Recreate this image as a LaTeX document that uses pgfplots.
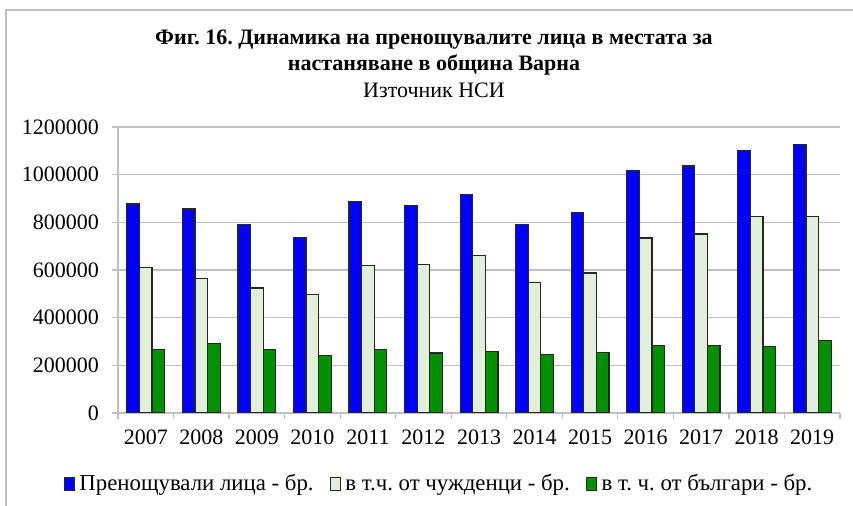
\documentclass[border=0pt]{standalone}
\usepackage{pgfplots}
\pgfplotsset{compat=1.18}
\usepackage{fontspec}
\setmainfont{Liberation Serif}
\frenchspacing
\definecolor{barblue}{HTML}{0000FF}
\definecolor{barpale}{HTML}{E2EFDA}
\definecolor{bargreen}{HTML}{009000}
\definecolor{gridgray}{HTML}{BFBFBF}
\definecolor{edgegray}{HTML}{262626}

\begin{document}
\begin{tikzpicture}
\useasboundingbox (0,0) rectangle (426.5pt,253pt);
\draw[gridgray,line width=0.6pt] (3pt,0) -- (3pt,248pt) -- (426.5pt,248pt);
\node[font=\fontsize{11}{13}\selectfont\bfseries] at (217pt,233pt) {Фиг. 16. Динамика на пренощувалите лица в местата за};
\node[font=\fontsize{11}{13}\selectfont\bfseries] at (217pt,220.5pt) {настаняване в община Варна};
\node[font=\fontsize{11}{13}\selectfont] at (217pt,208pt) {Източник НСИ};
\begin{axis}[
 at={(59pt,46.5pt)},anchor=south west,scale only axis,
 width=361pt,height=143pt,
 ybar=0pt,bar width=6.3pt,
 xmin=-0.5,xmax=12.5,ymin=0,ymax=1200000,
 xtick=data,
 xticklabels={2007,2008,2009,2010,2011,2012,2013,2014,2015,2016,2017,2018,2019},
 minor xtick={-0.5,0.5,...,12.5},
 major x tick style={draw=none},
 ytick={0,200000,...,1200000},
 scaled y ticks=false,
 /pgf/number format/fixed,/pgf/number format/1000 sep={},
 /pgf/number format/assume math mode=true,
 axis x line*=bottom,axis y line*=left,
 axis line style={gridgray,line width=0.6pt},
 tick style={gridgray,line width=0.6pt},
 tick align=outside,major tick length=3pt,minor tick length=3pt,
 ymajorgrids,grid style={gridgray,line width=0.6pt},
 tick label style={font=\fontsize{11}{13}\selectfont,text=black},
 yticklabel style={xshift=-3pt},
 xticklabel style={yshift=-2pt},
 legend style={at={(0.446,-0.248)},anchor=center,legend columns=3,draw=none,fill=none,
  font=\fontsize{11.4}{13}\selectfont,/tikz/every even column/.append style={column sep=6pt},
  /tikz/every odd column/.append style={column sep=0.5pt}},
 legend image code/.code={\draw[#1,line width=0.4pt] (0pt,-3pt) rectangle (5pt,3.5pt);},
 legend cell align=left,
 every axis plot/.append style={draw=edgegray,line width=0.6pt},
]
\addplot[fill=barblue] coordinates {(0,877000)(1,856000)(2,792000)(3,737000)(4,887000)(5,872000)(6,918000)(7,792000)(8,842000)(9,1017000)(10,1036000)(11,1103000)(12,1127000)};
\addlegendentry{Пренощували лица - бр.}
\addplot[fill=barpale] coordinates {(0,611000)(1,565000)(2,524000)(3,497000)(4,620000)(5,622000)(6,660000)(7,548000)(8,587000)(9,734000)(10,751000)(11,824000)(12,823000)};
\addlegendentry{в т.ч. от чужденци - бр.}
\addplot[fill=bargreen] coordinates {(0,266000)(1,290000)(2,266000)(3,242000)(4,268000)(5,252000)(6,258000)(7,246000)(8,253000)(9,284000)(10,284000)(11,280000)(12,303000)};
\addlegendentry{в т. ч. от българи - бр.}
\end{axis}
\end{tikzpicture}
\end{document}
